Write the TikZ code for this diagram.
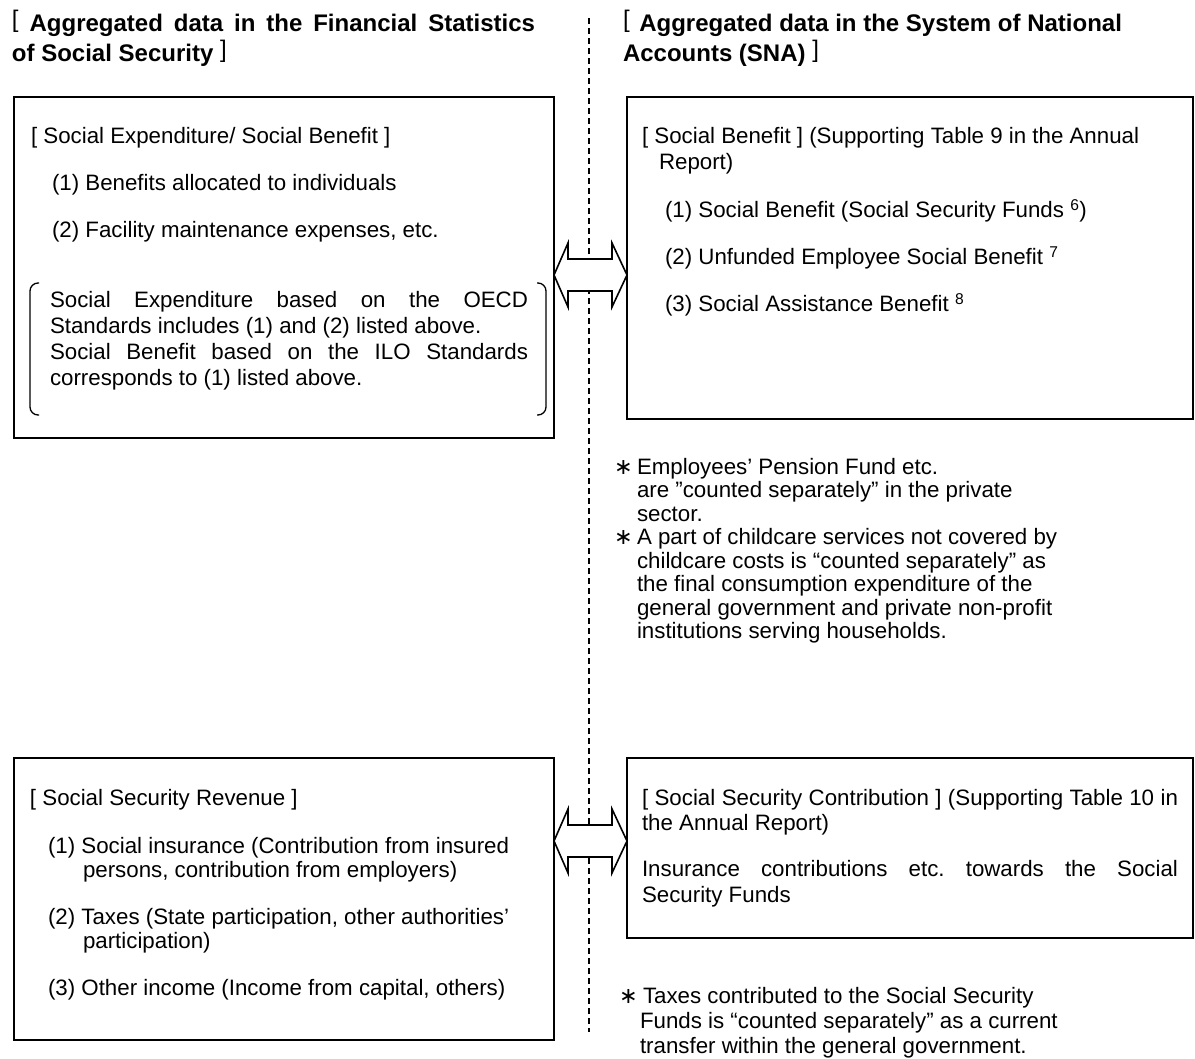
\documentclass[tikz,border=0pt]{standalone}
\usepackage{fontspec}
\setmainfont{Liberation Sans}
\newfontfamily\symfnt{DejaVu Sans}
\usetikzlibrary{calc}
\frenchspacing
\newcommand\tbrk[1]{\raisebox{4pt}{\mdseries #1}}
\newcommand\astx{{\symfnt ∗}}
\begin{document}
\begin{tikzpicture}[x=1pt,y=-1pt,
  box/.style={draw, line width=1.8pt, anchor=north west, inner sep=0pt, outer sep=0pt},
  txt/.style={anchor=base west, inner sep=0pt, outer sep=0pt, font=\fontsize{22.3}{25}\selectfont},
  ttl/.style={anchor=base west, inner sep=0pt, outer sep=0pt, font=\fontsize{24}{30}\selectfont\bfseries},
  divider/.style={line width=1.3pt, dash pattern=on 6pt off 4pt},
  blk/.style={draw, fill=white, line width=1.6pt, line join=miter},
  paren/.style={line width=1.3pt, rounded corners=8pt}]
\useasboundingbox (0,0) rectangle (1195,1059);

% titles
\node[ttl] (t1a) at (12,32) {\makebox[523pt][s]{\tbrk{[}\ Aggregated data in the Financial Statistics}};
\node[ttl] (t1b) at (12,62) {of Social Security \tbrk{]}};
\node[ttl] (t2a) at (623,32) {\tbrk{[}\hspace{0.4em}Aggregated data in the System of National};
\node[ttl] (t2b) at (623,62) {Accounts (SNA) \tbrk{]}};

% divider
\coordinate (dtop) at (589,18);
\coordinate (dbot) at (589,1032);
\draw[divider] (dtop) -- (dbot);

% boxes
\node[box, minimum width=540pt, minimum height=341pt] (tl) at (14,97) {};
\node[box, minimum width=566pt, minimum height=322pt] (tr) at (627,97) {};
\node[box, minimum width=540pt, minimum height=282pt] (bl) at (14,758) {};
\node[box, minimum width=566pt, minimum height=180pt] (br) at (627,758) {};

% double block arrows
\coordinate (a1l) at (tl.east |- 0,275);
\coordinate (a1r) at (tr.west |- 0,275);
\draw[blk] (a1l) -- ++(14,-32) -- ++(0,16) -- ($(a1r)+(-15,-16)$) -- ++(0,-16) -- (a1r)
  -- ++(-15,32) -- ++(0,-16) -- ($(a1l)+(14,16)$) -- ++(0,16) -- cycle;
\coordinate (a2l) at (bl.east |- 0,841);
\coordinate (a2r) at (br.west |- 0,841);
\draw[blk] (a2l) -- ++(14,-32) -- ++(0,16) -- ($(a2r)+(-15,-16)$) -- ++(0,-16) -- (a2r)
  -- ++(-15,32) -- ++(0,-16) -- ($(a2l)+(14,16)$) -- ++(0,16) -- cycle;

% top-left box text
\node[txt] (tlh) at (31,144) {[ Social Expenditure/ Social Benefit ]};
\node[txt] (tl1) at (52,191) {(1) Benefits allocated to individuals};
\node[txt] (tl2) at (52,238) {(2) Facility maintenance expenses, etc.};
\draw[paren] (39,283) -- (30,283) -- (30,415) -- (39,415);
\draw[paren] (537,283) -- (546,283) -- (546,415) -- (537,415);
\node[txt] (p1) at (50,308) {\makebox[478pt][s]{Social Expenditure based on the OECD}};
\node[txt] (p2) at (50,334) {Standards includes (1) and (2) listed above.};
\node[txt] (p3) at (50,360) {\makebox[478pt][s]{Social Benefit based on the ILO Standards}};
\node[txt] (p4) at (50,386) {corresponds to (1) listed above.};

% top-right box text
\node[txt] (trh) at (642,144) {[ Social Benefit ] (Supporting Table 9 in the Annual};
\node[txt] (trh2) at (659,170) {Report)};
\node[txt] (tr1) at (665,218) {(1) Social Benefit (Social Security Funds \textsuperscript{6})};
\node[txt] (tr2) at (665,265) {(2) Unfunded Employee Social Benefit \textsuperscript{7}};
\node[txt] (tr3) at (665,312) {(3) Social Assistance Benefit \textsuperscript{8}};

% notes (upper)
\node[txt] (n1a) at (614,474) {\astx};
\node[txt] (n1) at (637,474) {Employees’ Pension Fund etc.};
\node[txt] (n2) at (637,497.5) {are ”counted separately” in the private};
\node[txt] (n3) at (637,521) {sector.};
\node[txt] (n4a) at (614,544.5) {\astx};
\node[txt] (n4) at (637,544.5) {A part of childcare services not covered by};
\node[txt] (n5) at (637,568) {childcare costs is “counted separately” as};
\node[txt] (n6) at (637,591.5) {the final consumption expenditure of the};
\node[txt] (n7) at (637,615) {general government and private non-profit};
\node[txt] (n8) at (637,638.5) {institutions serving households.};

% bottom-left box text
\node[txt] (blh) at (30,805) {[ Social Security Revenue ]};
\node[txt] (bl1) at (48,853) {(1) Social insurance (Contribution from insured};
\node[txt] (bl1b) at (83,877) {persons, contribution from employers)};
\node[txt] (bl2) at (48,924) {(2) Taxes (State participation, other authorities’};
\node[txt] (bl2b) at (83,948) {participation)};
\node[txt] (bl3) at (48,995) {(3) Other income (Income from capital, others)};

% bottom-right box text
\node[txt] (brh) at (642,805) {\makebox[536pt][s]{[ Social Security Contribution ] (Supporting Table 10 in}};
\node[txt] (brh2) at (642,830) {the Annual Report)};
\node[txt] (br1) at (642,876) {\makebox[536pt][s]{Insurance contributions etc. towards the Social}};
\node[txt] (br2) at (642,902) {Security Funds};

% note (lower)
\node[txt] (m1a) at (619,1003) {\astx};
\node[txt] (m1) at (643,1003) {Taxes contributed to the Social Security};
\node[txt] (m2) at (640,1028) {Funds is “counted separately” as a current};
\node[txt] (m3) at (640,1053) {transfer within the general government.};
\end{tikzpicture}
\end{document}
